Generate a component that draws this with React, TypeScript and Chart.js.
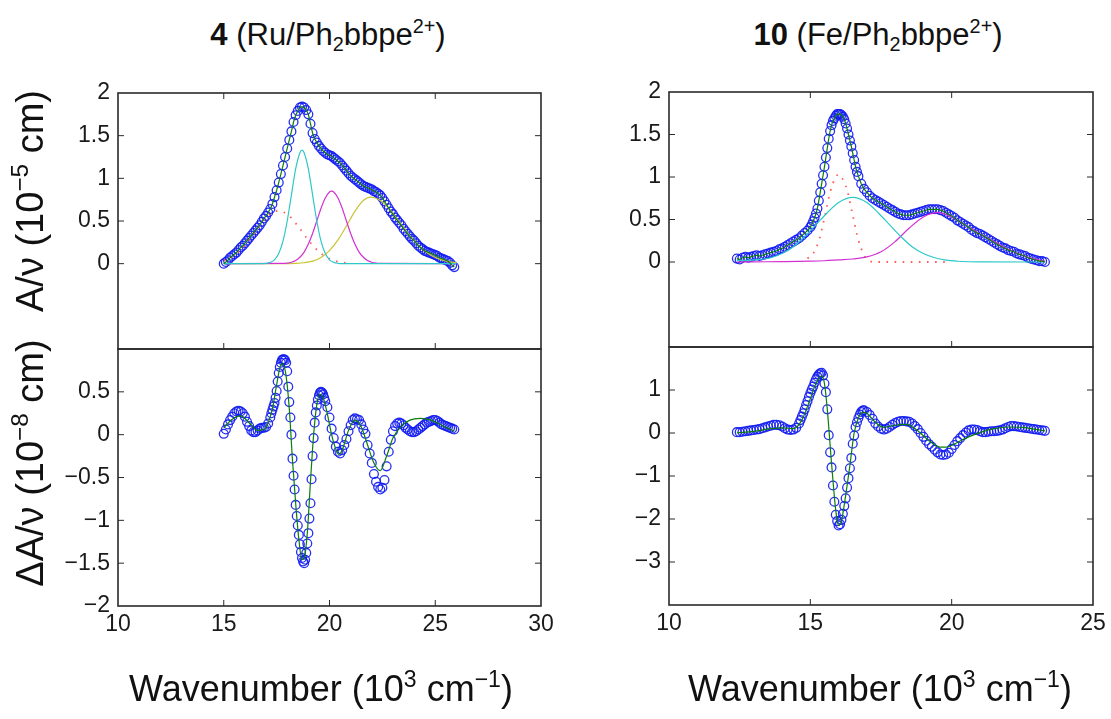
import React, { useEffect, useRef } from "react";
import { Chart, registerables } from "chart.js";

Chart.register(...registerables);

// ---------------- DATA ----------------
// Panel 4 (Ru) – absorption A/ν (10^-5 cm), measured points
const ruAbsX = [
  15.0, 15.1, 15.2, 15.3, 15.4, 15.5, 15.6, 15.7, 15.8, 15.9,
  16.0, 16.1, 16.2, 16.3, 16.4, 16.5, 16.6, 16.7, 16.8, 16.9,
  17.0, 17.1, 17.2, 17.3, 17.4, 17.5, 17.6, 17.7, 17.8, 17.9,
  18.0, 18.1, 18.2, 18.3, 18.4, 18.5, 18.6, 18.7, 18.8, 18.9,
  19.0, 19.1, 19.2, 19.3, 19.4, 19.5, 19.6, 19.7, 19.8, 19.9,
  20.0, 20.1, 20.2, 20.3, 20.4, 20.5, 20.6, 20.7, 20.8, 20.9,
  21.0, 21.1, 21.2, 21.3, 21.4, 21.5, 21.6, 21.7, 21.8, 21.9,
  22.0, 22.1, 22.2, 22.3, 22.4, 22.5, 22.6, 22.7, 22.8, 22.9,
  23.0, 23.1, 23.2, 23.3, 23.4, 23.5, 23.6, 23.7, 23.8, 23.9,
  24.0, 24.1, 24.2, 24.3, 24.4, 24.5, 24.6, 24.7, 24.8, 24.9,
  25.0, 25.1, 25.2, 25.3, 25.4, 25.5, 25.6, 25.7, 25.8, 25.9,
];
const ruAbsY = [
  0.0, 0.02, 0.04, 0.07, 0.09, 0.11, 0.13, 0.16, 0.19, 0.21,
  0.24, 0.27, 0.3, 0.33, 0.36, 0.39, 0.42, 0.45, 0.49, 0.53,
  0.56, 0.6, 0.64, 0.7, 0.78, 0.86, 0.95, 1.05, 1.15, 1.25,
  1.35, 1.45, 1.55, 1.66, 1.74, 1.79, 1.83, 1.84, 1.83, 1.8,
  1.75, 1.64, 1.53, 1.46, 1.42, 1.38, 1.35, 1.32, 1.3, 1.28,
  1.27, 1.26, 1.24, 1.22, 1.2, 1.18, 1.15, 1.12, 1.09, 1.06,
  1.03, 1.01, 0.99, 0.97, 0.95, 0.93, 0.91, 0.9, 0.89, 0.88,
  0.87, 0.85, 0.84, 0.82, 0.8, 0.77, 0.73, 0.69, 0.65, 0.61,
  0.58, 0.54, 0.51, 0.48, 0.45, 0.41, 0.38, 0.35, 0.32, 0.29,
  0.27, 0.24, 0.21, 0.19, 0.17, 0.15, 0.14, 0.13, 0.12, 0.11,
  0.1, 0.09, 0.07, 0.06, 0.05, 0.04, 0.03, 0.01, -0.02, -0.04,
];
// Ru band components
const ruCyanX = [15.0, 16.8, 17.0, 17.2, 17.4, 17.6, 17.8, 18.0, 18.2, 18.4, 18.6, 18.7, 18.8, 19.0, 19.2, 19.4, 19.6, 19.8, 20.0, 20.2, 20.4, 20.6, 26.0];
const ruCyanY = [0, 0.001, 0.004, 0.015, 0.045, 0.118, 0.263, 0.5, 0.807, 1.11, 1.3, 1.33, 1.3, 1.11, 0.807, 0.5, 0.263, 0.118, 0.045, 0.015, 0.004, 0.001, 0];
const ruMagentaX = [15.0, 17.8, 18.0, 18.2, 18.4, 18.6, 18.8, 19.0, 19.2, 19.4, 19.6, 19.8, 20.0, 20.1, 20.2, 20.4, 20.6, 20.8, 21.0, 21.2, 21.4, 21.6, 21.8, 22.0, 22.2, 22.4, 26.0];
const ruMagentaY = [0, 0.003, 0.007, 0.017, 0.037, 0.075, 0.136, 0.23, 0.354, 0.5, 0.65, 0.77, 0.84, 0.85, 0.84, 0.77, 0.65, 0.5, 0.354, 0.23, 0.136, 0.075, 0.037, 0.017, 0.007, 0.003, 0];
const ruYellowX = [15.0, 17.6, 18.0, 18.4, 18.8, 19.2, 19.6, 20.0, 20.4, 20.8, 21.2, 21.6, 21.95, 22.4, 22.8, 23.2, 23.6, 24.0, 24.4, 24.8, 25.2, 25.6, 26.0];
const ruYellowY = [0, 0, 0.001, 0.0035, 0.011, 0.03, 0.073, 0.153, 0.278, 0.442, 0.613, 0.74, 0.78, 0.74, 0.649, 0.523, 0.39, 0.267, 0.169, 0.098, 0.053, 0.026, 0.012];
const ruRedX = [15.0, 15.5, 16.0, 16.5, 17.0, 17.5, 18.0, 18.5, 19.0, 19.5, 20.0, 20.5, 21.0];
const ruRedY = [0.038, 0.1, 0.215, 0.376, 0.534, 0.617, 0.58, 0.443, 0.276, 0.14, 0.057, 0.019, 0.005];

// Panel 4 (Ru) – Stark ΔA/ν (10^-8 cm), measured points
const ruStarkX = [
  15.0, 15.1, 15.2, 15.3, 15.4, 15.5, 15.6, 15.7, 15.8, 15.9,
  16.0, 16.1, 16.2, 16.3, 16.4, 16.5, 16.6, 16.7, 16.8, 16.9,
  17.0, 17.1, 17.2,
  17.25, 17.3, 17.35, 17.4, 17.45, 17.5, 17.55, 17.6, 17.65, 17.7, 17.75, 17.8, 17.85, 17.9, 17.95,
  18.0, 18.05, 18.1, 18.15, 18.2, 18.25, 18.3, 18.35, 18.4, 18.45,
  18.5, 18.55, 18.6, 18.65, 18.7, 18.75, 18.8, 18.85, 18.9, 18.95,
  19.0, 19.05, 19.1, 19.15, 19.2, 19.25, 19.3, 19.35, 19.4, 19.45,
  19.5, 19.55, 19.6, 19.65, 19.7, 19.75,
  19.8, 19.9,
  20.0, 20.1, 20.2, 20.3, 20.4, 20.5, 20.6, 20.7, 20.8, 20.9,
  21.0, 21.1, 21.2, 21.3, 21.4, 21.5, 21.6, 21.7, 21.8, 21.9,
  22.0, 22.1, 22.2, 22.3, 22.4, 22.5, 22.6, 22.7, 22.8, 22.9,
  23.0, 23.1, 23.2, 23.3, 23.4, 23.5, 23.6, 23.7, 23.8, 23.9,
  24.0, 24.1, 24.2, 24.3, 24.4, 24.5, 24.6, 24.7, 24.8, 24.9,
  25.0, 25.1, 25.2, 25.3, 25.4, 25.5, 25.6, 25.7, 25.8, 25.9,
];
const ruStarkY = [
  0.01, 0.06, 0.12, 0.17, 0.21, 0.25, 0.27, 0.28, 0.27, 0.25,
  0.21, 0.15, 0.1, 0.05, 0.03, 0.03, 0.05, 0.07, 0.08, 0.08,
  0.09, 0.13, 0.2,
  0.25, 0.29, 0.33, 0.37, 0.43, 0.51, 0.62, 0.72, 0.79, 0.84, 0.87, 0.88, 0.88, 0.87, 0.84,
  0.74, 0.56, 0.38, 0.2, 0.0, -0.28, -0.48, -0.64, -0.82, -0.95,
  -1.06, -1.17, -1.28, -1.37, -1.44, -1.48, -1.5, -1.46, -1.38, -1.27,
  -1.15, -0.98, -0.8, -0.52, -0.25, -0.04, 0.14, 0.26, 0.34, 0.41,
  0.46, 0.49, 0.5, 0.49, 0.47, 0.43,
  0.39, 0.32,
  0.2, 0.07, -0.04, -0.14, -0.2, -0.22, -0.18, -0.12, -0.05, 0.04,
  0.11, 0.17, 0.19, 0.18, 0.17, 0.12, 0.06, 0.01, -0.12, -0.22,
  -0.33, -0.46, -0.55, -0.61, -0.64, -0.62, -0.53, -0.37, -0.2, -0.06,
  0.04, 0.1, 0.13, 0.14, 0.13, 0.11, 0.08, 0.06, 0.04, 0.03,
  0.03, 0.04, 0.06, 0.08, 0.1, 0.12, 0.14, 0.15, 0.16, 0.17,
  0.17, 0.16, 0.14, 0.12, 0.11, 0.1, 0.09, 0.08, 0.07, 0.06,
];
const ruStarkFitX = [15.0, 15.4, 15.8, 16.2, 16.6, 16.9, 17.1, 17.3, 17.5, 17.65, 17.8, 17.95, 18.1, 18.25, 18.4, 18.55, 18.7, 18.8, 18.95, 19.1, 19.25, 19.4, 19.55, 19.7, 19.9, 20.1, 20.3, 20.45, 20.6, 20.9, 21.2, 21.5, 21.8, 22.1, 22.4, 22.7, 23.0, 23.4, 23.8, 24.3, 24.8, 25.3, 25.9];
const ruStarkFitY = [0.08, 0.18, 0.22, 0.14, 0.05, 0.06, 0.14, 0.3, 0.58, 0.78, 0.83, 0.68, 0.3, -0.3, -0.8, -1.22, -1.46, -1.44, -1.15, -0.55, 0.0, 0.35, 0.47, 0.43, 0.24, 0.0, -0.17, -0.23, -0.18, 0.05, 0.17, 0.09, -0.12, -0.33, -0.42, -0.25, -0.04, 0.1, 0.17, 0.19, 0.17, 0.11, 0.04];

// Panel 10 (Fe) – absorption
const feAbsX = [
  12.4, 12.5, 12.6, 12.7, 12.8, 12.9, 13.0, 13.1, 13.2, 13.3,
  13.4, 13.5, 13.6, 13.7, 13.8, 13.9, 14.0, 14.1, 14.2, 14.3,
  14.4, 14.5, 14.6, 14.7, 14.8, 14.9, 15.0,
  15.05, 15.1, 15.15, 15.2, 15.25, 15.3, 15.35, 15.4, 15.45, 15.5,
  15.55, 15.6, 15.65, 15.7, 15.75, 15.8, 15.85, 15.9, 15.95, 16.0,
  16.05, 16.1, 16.15, 16.2, 16.25, 16.3, 16.35, 16.4, 16.45, 16.5,
  16.55, 16.6, 16.65, 16.7,
  16.8, 16.9, 17.0, 17.1, 17.2, 17.3, 17.4, 17.5, 17.6, 17.7,
  17.8, 17.9, 18.0, 18.1, 18.2, 18.3, 18.4, 18.5, 18.6, 18.7,
  18.8, 18.9, 19.0, 19.1, 19.2, 19.3, 19.4, 19.5, 19.6, 19.7,
  19.8, 19.9, 20.0, 20.1, 20.2, 20.3, 20.4, 20.5, 20.6, 20.7,
  20.8, 20.9, 21.0, 21.1, 21.2, 21.3, 21.4, 21.5, 21.6, 21.7,
  21.8, 21.9, 22.0, 22.1, 22.2, 22.3, 22.4, 22.5, 22.6, 22.7,
  22.8, 22.9, 23.0, 23.1, 23.2, 23.3,
];
const feAbsY = [
  0.04, 0.03, 0.05, 0.06, 0.05, 0.06, 0.07, 0.08, 0.07, 0.08,
  0.09, 0.1, 0.11, 0.12, 0.13, 0.15, 0.16, 0.18, 0.2, 0.22,
  0.24, 0.26, 0.28, 0.31, 0.34, 0.37, 0.41,
  0.44, 0.48, 0.52, 0.57, 0.63, 0.72, 0.82, 0.92, 1.02, 1.12,
  1.23, 1.34, 1.45, 1.54, 1.61, 1.66, 1.69, 1.72, 1.74, 1.74,
  1.74, 1.73, 1.71, 1.68, 1.63, 1.57, 1.5, 1.43, 1.36, 1.28,
  1.2, 1.12, 1.06, 1.01,
  0.92, 0.86, 0.82, 0.78, 0.75, 0.73, 0.71, 0.69, 0.67, 0.65,
  0.63, 0.61, 0.59, 0.57, 0.56, 0.55, 0.55, 0.55, 0.56, 0.57,
  0.58, 0.59, 0.6, 0.61, 0.62, 0.62, 0.62, 0.62, 0.61, 0.6,
  0.58, 0.56, 0.54, 0.52, 0.49, 0.47, 0.45, 0.43, 0.41, 0.38,
  0.36, 0.34, 0.33, 0.31, 0.29, 0.27, 0.25, 0.23, 0.21, 0.19,
  0.17, 0.16, 0.14, 0.13, 0.12, 0.1, 0.09, 0.08, 0.07, 0.05,
  0.04, 0.03, 0.02, 0.01, 0.01, 0.0,
];
// Fe band components
const feCyanX = [12.4, 12.8, 13.2, 13.6, 14.0, 14.4, 14.8, 15.2, 15.6, 16.0, 16.5, 17.0, 17.4, 17.8, 18.2, 18.6, 19.0, 19.4, 19.8, 20.2, 20.6, 21.0, 23.3];
const feCyanY = [0.02, 0.02, 0.03, 0.05, 0.1, 0.18, 0.3, 0.44, 0.58, 0.7, 0.76, 0.7, 0.58, 0.44, 0.3, 0.18, 0.1, 0.05, 0.022, 0.009, 0.003, 0.001, 0];
const feMagentaX = [12.4, 13.0, 14.0, 15.0, 15.5, 16.0, 16.5, 17.0, 17.5, 18.0, 18.5, 19.0, 19.5, 20.0, 20.5, 21.0, 21.5, 22.0, 22.5, 23.0, 23.3];
const feMagentaY = [0, 0.002, 0.005, 0.01, 0.015, 0.025, 0.035, 0.06, 0.12, 0.24, 0.4, 0.53, 0.58, 0.53, 0.43, 0.33, 0.24, 0.15, 0.08, 0.03, 0.01];
const feRedX = [14.9, 15.1, 15.3, 15.5, 15.7, 15.9, 16.0, 16.1, 16.3, 16.5, 16.7, 16.9, 17.1, 17.3, 19.8];
const feRedY = [0.04, 0.1, 0.25, 0.52, 0.82, 1.0, 1.03, 1.0, 0.85, 0.55, 0.26, 0.08, 0.01, 0, 0];

// Panel 10 (Fe) – Stark
const feStarkX = [
  12.4, 12.5, 12.6, 12.7, 12.8, 12.9, 13.0, 13.1, 13.2, 13.3,
  13.4, 13.5, 13.6, 13.7, 13.8, 13.9, 14.0, 14.1, 14.2, 14.3,
  14.4, 14.5, 14.6,
  14.65, 14.7, 14.75, 14.8, 14.85, 14.9, 14.95,
  15.0, 15.05, 15.1, 15.15, 15.2, 15.25, 15.3, 15.35, 15.4, 15.45,
  15.5, 15.55, 15.6, 15.65, 15.7, 15.75, 15.8, 15.85, 15.9, 15.95,
  16.0, 16.05, 16.1, 16.15, 16.2, 16.25, 16.3, 16.35, 16.4, 16.45,
  16.5, 16.55, 16.6, 16.65, 16.7, 16.75, 16.8, 16.85, 16.9,
  17.0, 17.1, 17.2, 17.3, 17.4, 17.5, 17.6, 17.7, 17.8, 17.9,
  18.0, 18.1, 18.2, 18.3, 18.4, 18.5, 18.6, 18.7, 18.8, 18.9,
  19.0, 19.1, 19.2, 19.3, 19.4, 19.5, 19.6, 19.7, 19.8, 19.9,
  20.0, 20.1, 20.2, 20.3, 20.4, 20.5, 20.6, 20.7, 20.8, 20.9,
  21.0, 21.1, 21.2, 21.3, 21.4, 21.5, 21.6, 21.7, 21.8, 21.9,
  22.0, 22.1, 22.2, 22.3, 22.4, 22.5, 22.6, 22.7, 22.8, 22.9,
  23.0, 23.1, 23.2, 23.3,
];
const feStarkY = [
  0.02, 0.02, 0.03, 0.04, 0.05, 0.06, 0.07, 0.08, 0.09, 0.11,
  0.13, 0.15, 0.17, 0.19, 0.19, 0.18, 0.15, 0.11, 0.08, 0.07,
  0.08, 0.12, 0.22,
  0.3, 0.38, 0.46, 0.55, 0.65, 0.74, 0.84,
  0.93, 1.01, 1.08, 1.17, 1.25, 1.31, 1.36, 1.39, 1.4, 1.34,
  1.15, 0.95, 0.55, -0.05, -0.45, -0.8, -1.22, -1.6, -1.9, -2.05,
  -2.15, -2.12, -2.02, -1.88, -1.7, -1.52, -1.27, -1.05, -0.82, -0.58,
  -0.25, -0.06, 0.14, 0.25, 0.35, 0.43, 0.49, 0.52, 0.53,
  0.49, 0.42, 0.33, 0.22, 0.15, 0.1, 0.08, 0.1, 0.14, 0.19,
  0.23, 0.26, 0.28, 0.28, 0.27, 0.26, 0.22, 0.16, 0.09, 0.0,
  -0.09, -0.18, -0.26, -0.32, -0.39, -0.45, -0.5, -0.51, -0.5, -0.46,
  -0.37, -0.28, -0.19, -0.12, -0.05, 0.01, 0.06, 0.08, 0.08, 0.07,
  0.04, 0.02, 0.02, 0.03, 0.04, 0.04, 0.05, 0.06, 0.08, 0.11,
  0.14, 0.16, 0.16, 0.15, 0.14, 0.13, 0.12, 0.11, 0.1, 0.09,
  0.08, 0.07, 0.06, 0.05,
];
const feStarkFitX = [12.4, 13.0, 13.6, 14.0, 14.4, 14.7, 15.0, 15.2, 15.4, 15.5, 15.6, 15.75, 15.9, 16.0, 16.1, 16.25, 16.4, 16.55, 16.7, 16.85, 17.0, 17.3, 17.6, 18.0, 18.4, 18.8, 19.2, 19.6, 19.8, 20.2, 20.6, 21.0, 21.5, 22.0, 22.5, 23.3];
const feStarkFitY = [0.0, 0.04, 0.1, 0.12, 0.1, 0.3, 0.8, 1.15, 1.33, 1.15, 0.55, -0.7, -1.8, -2.15, -2.05, -1.45, -0.75, 0.0, 0.35, 0.48, 0.46, 0.25, 0.13, 0.18, 0.2, 0.05, -0.18, -0.33, -0.33, -0.22, -0.09, 0.01, 0.1, 0.14, 0.13, 0.05];

// Axis ticks
const ruXTicks = [10, 15, 20, 25, 30];
const feXTicks = [10, 15, 20, 25];
const absYTicks = [0, 0.5, 1, 1.5, 2];
const ruStarkYTicks = [-2, -1.5, -1, -0.5, 0, 0.5];
const feStarkYTicks = [-3, -2, -1, 0, 1];

// ---------------- STYLE / LAYOUT ----------------
const FONT = '"Liberation Sans", Arial, Helvetica, sans-serif';
const BLUE = "rgba(18, 28, 240, 0.92)";
const GREEN = "#0b7d0b";
const CYAN = "#2ec8c8";
const MAGENTA = "#d232d2";
const YELLOW = "#c9c434";
const RED = "#ff5c5c";

const PAD_L = 96;
const PAD_R = 22;
const PAD_T = 28;
const PAD_B = 28;
const PAD_B_X = 56;

type Series = { xs: number[]; ys: number[]; kind: "circle" | "line" | "dot"; color: string; smooth?: boolean };
type Spec = {
  box: { left: number; top: number; width: number; height: number };
  xRange: [number, number];
  yRange: [number, number];
  xTicks: number[];
  yTicks: number[];
  showX: boolean;
  topTicks: boolean;
  series: Series[];
};

const fmt = (v: any) => {
  const n = Number(v);
  return (n < 0 ? "\u2212" : "") + String(Math.abs(n));
};

function Panel({ spec }: { spec: Spec }) {
  const ref = useRef<HTMLCanvasElement | null>(null);
  const w = spec.box.width + PAD_L + PAD_R;
  const h = spec.box.height + PAD_T + (spec.showX ? PAD_B_X : PAD_B);

  useEffect(() => {
    const canvas = ref.current;
    if (!canvas) return;
    const framePlugin = {
      id: "frame",
      afterDatasetsDraw(chart: any) {
        const { ctx, chartArea: a } = chart;
        const xs = chart.scales.x;
        const ys = chart.scales.y;
        ctx.save();
        ctx.strokeStyle = "#2a2a2a";
        ctx.lineWidth = 1;
        const L = 6;
        ctx.beginPath();
        for (const v of spec.yTicks) {
          const p = ys.getPixelForValue(v);
          if (p <= a.top + 1 || p >= a.bottom - 1) continue;
          ctx.moveTo(a.left, p);
          ctx.lineTo(a.left + L, p);
          ctx.moveTo(a.right, p);
          ctx.lineTo(a.right - L, p);
        }
        for (const v of spec.xTicks) {
          const p = xs.getPixelForValue(v);
          if (p <= a.left + 1 || p >= a.right - 1) continue;
          ctx.moveTo(p, a.bottom);
          ctx.lineTo(p, a.bottom - L);
          if (spec.topTicks) {
            ctx.moveTo(p, a.top);
            ctx.lineTo(p, a.top + L);
          }
        }
        ctx.stroke();
        ctx.lineWidth = 1.6;
        ctx.strokeRect(a.left, a.top, a.right - a.left, a.bottom - a.top);
        ctx.restore();
      },
    };

    const datasets = spec.series.map((s) => {
      const data = s.xs.map((x, i) => ({ x, y: s.ys[i] }));
      if (s.kind === "circle") {
        return {
          data,
          showLine: false,
          pointStyle: "circle",
          pointRadius: 4.4,
          pointBorderWidth: 1.3,
          pointBorderColor: s.color,
          pointBackgroundColor: "rgba(0,0,0,0)",
          borderColor: s.color,
          backgroundColor: "rgba(0,0,0,0)",
          order: 10,
        };
      }
      return {
        data,
        showLine: true,
        pointRadius: 0,
        borderColor: s.color,
        backgroundColor: s.color,
        borderWidth: s.kind === "dot" ? 1.8 : 1.2,
        borderDash: s.kind === "dot" ? [1.6, 6.5] : [],
        cubicInterpolationMode: s.smooth ? "monotone" : "default",
        fill: false,
        order: 1,
      };
    });

    const chart = new Chart(canvas, {
      type: "scatter",
      data: { datasets: datasets as any },
      options: {
        responsive: false,
        maintainAspectRatio: false,
        animation: false,
        events: [],
        layout: {
          padding: { left: 0, right: PAD_R, top: PAD_T, bottom: spec.showX ? 0 : PAD_B },
        },
        plugins: { legend: { display: false }, tooltip: { enabled: false }, title: { display: false } },
        scales: {
          x: {
            type: "linear",
            min: spec.xRange[0],
            max: spec.xRange[1],
            display: spec.showX,
            afterFit: (s: any) => {
              s.height = spec.showX ? PAD_B_X : 0;
            },
            afterBuildTicks: (s: any) => {
              s.ticks = spec.xTicks.map((v) => ({ value: v }));
            },
            grid: { display: false, drawTicks: false },
            border: { display: false },
            ticks: {
              font: { family: FONT, size: 23 },
              color: "#1a1a1a",
              padding: 5,
              maxRotation: 0,
              autoSkip: false,
              callback: fmt,
            },
          },
          y: {
            type: "linear",
            min: spec.yRange[0],
            max: spec.yRange[1],
            afterFit: (s: any) => {
              s.width = PAD_L;
            },
            afterBuildTicks: (s: any) => {
              s.ticks = spec.yTicks.map((v) => ({ value: v }));
            },
            grid: { display: false, drawTicks: false },
            border: { display: false },
            ticks: {
              font: { family: FONT, size: 23 },
              color: "#1a1a1a",
              padding: 8,
              autoSkip: false,
              callback: fmt,
            },
          },
        },
      } as any,
      plugins: [framePlugin],
    });
    return () => chart.destroy();
  }, [spec]);

  return (
    <canvas
      ref={ref}
      width={w}
      height={h}
      style={{ position: "absolute", left: spec.box.left - PAD_L, top: spec.box.top - PAD_T, width: w, height: h }}
    />
  );
}

const SPECS: Spec[] = [
  {
    box: { left: 118, top: 93, width: 423, height: 256 },
    xRange: [10, 30],
    yRange: [-1, 2],
    xTicks: ruXTicks,
    yTicks: absYTicks,
    showX: false,
    topTicks: true,
    series: [
      { xs: ruAbsX, ys: ruAbsY, kind: "line", color: GREEN },
      { xs: ruCyanX, ys: ruCyanY, kind: "line", color: CYAN, smooth: true },
      { xs: ruMagentaX, ys: ruMagentaY, kind: "line", color: MAGENTA, smooth: true },
      { xs: ruYellowX, ys: ruYellowY, kind: "line", color: YELLOW, smooth: true },
      { xs: ruRedX, ys: ruRedY, kind: "dot", color: RED, smooth: true },
      { xs: ruAbsX, ys: ruAbsY, kind: "circle", color: BLUE },
    ],
  },
  {
    box: { left: 118, top: 349, width: 423, height: 257 },
    xRange: [10, 30],
    yRange: [-2, 1],
    xTicks: ruXTicks,
    yTicks: ruStarkYTicks,
    showX: true,
    topTicks: false,
    series: [
      { xs: ruStarkFitX, ys: ruStarkFitY, kind: "line", color: GREEN, smooth: true },
      { xs: ruStarkX, ys: ruStarkY, kind: "circle", color: BLUE },
    ],
  },
  {
    box: { left: 669, top: 92, width: 424, height: 255 },
    xRange: [10, 25],
    yRange: [-1, 2],
    xTicks: feXTicks,
    yTicks: absYTicks,
    showX: false,
    topTicks: true,
    series: [
      { xs: feAbsX, ys: feAbsY, kind: "line", color: GREEN },
      { xs: feCyanX, ys: feCyanY, kind: "line", color: CYAN, smooth: true },
      { xs: feMagentaX, ys: feMagentaY, kind: "line", color: MAGENTA, smooth: true },
      { xs: feRedX, ys: feRedY, kind: "dot", color: RED, smooth: true },
      { xs: feAbsX, ys: feAbsY, kind: "circle", color: BLUE },
    ],
  },
  {
    box: { left: 669, top: 347, width: 424, height: 258 },
    xRange: [10, 25],
    yRange: [-4, 2],
    xTicks: feXTicks,
    yTicks: feStarkYTicks,
    showX: true,
    topTicks: false,
    series: [
      { xs: feStarkFitX, ys: feStarkFitY, kind: "line", color: GREEN, smooth: true },
      { xs: feStarkX, ys: feStarkY, kind: "circle", color: BLUE },
    ],
  },
];

const Sub = ({ children }: { children: React.ReactNode }) => (
  <span style={{ fontSize: "0.64em", position: "relative", top: "0.32em" }}>{children}</span>
);
const Sup = ({ children }: { children: React.ReactNode }) => (
  <span style={{ fontSize: "0.64em", position: "relative", top: "-0.62em" }}>{children}</span>
);

function Text({
  x,
  y,
  size,
  rotate,
  children,
}: {
  x: number;
  y: number;
  size: number;
  rotate?: boolean;
  children: React.ReactNode;
}) {
  return (
    <div
      style={{
        position: "absolute",
        left: x,
        top: y,
        transform: rotate ? "translate(-50%, -50%) rotate(-90deg)" : "translate(-50%, -50%)",
        whiteSpace: "nowrap",
        fontSize: size,
        lineHeight: 1,
        fontFamily: FONT,
        color: "#111",
      }}
    >
      {children}
    </div>
  );
}

export default function App() {
  return (
    <div
      style={{
        position: "fixed",
        left: 0,
        top: 0,
        width: 1111,
        height: 719,
        background: "#ffffff",
        overflow: "hidden",
      }}
    >
      {SPECS.map((s, i) => (
        <Panel key={i} spec={s} />
      ))}
      <Text x={328} y={34} size={31}>
        <b>4</b> (Ru/Ph<Sub>2</Sub>bbpe<Sup>2+</Sup>)
      </Text>
      <Text x={878} y={34} size={31}>
        <b>10</b> (Fe/Ph<Sub>2</Sub>bbpe<Sup>2+</Sup>)
      </Text>
      <Text x={30} y={201} size={38} rotate>
        A/ν (10<Sup>−5</Sup> cm)
      </Text>
      <Text x={30} y={463} size={38} rotate>
        ΔA/ν (10<Sup>−8</Sup> cm)
      </Text>
      <Text x={321} y={689} size={36}>
        Wavenumber (10<Sup>3</Sup> cm<Sup>−1</Sup>)
      </Text>
      <Text x={880} y={689} size={36}>
        Wavenumber (10<Sup>3</Sup> cm<Sup>−1</Sup>)
      </Text>
    </div>
  );
}
